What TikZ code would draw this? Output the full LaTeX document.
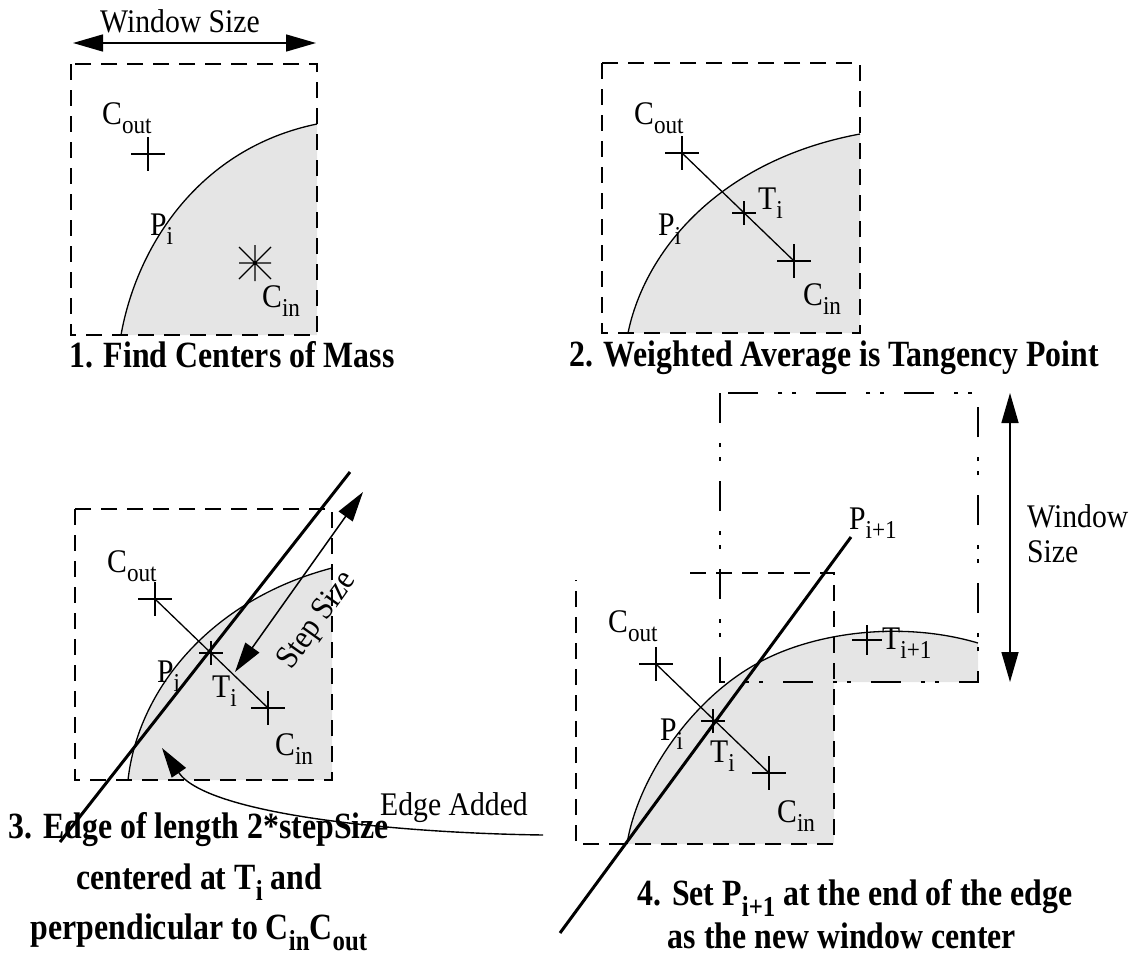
\documentclass[tikz,border=0pt]{standalone}
\usepackage{fontspec}
\usepackage{graphicx}
\setmainfont[FakeStretch=0.9]{Liberation Serif}
\newfontfamily\capfont[FakeStretch=0.86]{Liberation Serif}
\usetikzlibrary{arrows.meta}
\newcommand{\sbs}[1]{\raisebox{-0.3em}{\scalebox{0.78}{#1}}}
\definecolor{shadegray}{RGB}{229,229,229}
\newcommand{\plusat}[2]{\draw[cline] (#1) +(-#2,0) -- +(#2,0) +(0,-#2) -- +(0,#2);}
\tikzset{
  lbl/.style={inner sep=0pt, anchor=base west, font=\fontsize{33}{38}\selectfont},
  captext/.style={inner sep=0pt, anchor=base, font=\capfont\bfseries\fontsize{37}{44}\selectfont},
  winbox/.style={line width=1.4pt, dash pattern=on 16pt off 10pt},
  dotbox/.style={line width=1.4pt, dash pattern=on 30pt off 20pt on 4pt off 10pt on 4pt off 20pt},
  boundary/.style={line width=1.3pt},
  shaded/.style={fill=shadegray, draw=none},
  cline/.style={line width=1.3pt},
  thickedge/.style={line width=3pt},
  dimarrow/.style={line width=1.5pt, {Triangle[length=30pt,width=17pt]}-{Triangle[length=30pt,width=17pt]}},
  onearrow/.style={line width=1.4pt, -{Triangle[length=30pt,width=17pt]}},
}
\begin{document}
\begin{tikzpicture}[x=1pt,y=-1pt]
\useasboundingbox (0,0) rectangle (1140,961);

% ---------------- Panel 1 ----------------
\coordinate (b1a) at (71,64);
\coordinate (b1b) at (317,335);
\coordinate (k1s) at (121,335);
\coordinate (k1e) at (317,124);
\coordinate (k1c) at (317,335);
\fill[shaded] (k1s) .. controls (137,245) and (200,148) .. (k1e) -- (k1c) -- cycle;
\draw[boundary] (k1s) .. controls (137,245) and (200,148) .. (k1e);
\draw[winbox] (b1a) rectangle (b1b);
\coordinate (w1l) at (73,43);
\coordinate (w1r) at (316,43);
\draw[dimarrow] (w1l) -- (w1r);
\node[lbl] (w1t) at (100,32) {Window Size};
\coordinate (co1) at (148,154);
\plusat{co1}{17}
\coordinate (ci1) at (255,263);
\draw[cline] (ci1) +(-16,0) -- +(16,0) +(0,-18) -- +(0,18) +(-16,-16) -- +(16,16) +(-16,16) -- +(16,-16);
\node[lbl] (lco1) at (102,124) {C\sbs{out}};
\node[lbl] (lp1) at (150,235) {P\sbs{i}};
\node[lbl] (lci1) at (262,307) {C\sbs{in}};
\node[captext] (cap1) at (232,367) {1. Find Centers of Mass};

% ---------------- Panel 2 ----------------
\coordinate (b2a) at (602,63);
\coordinate (b2b) at (860,333);
\coordinate (k2s) at (628,333);
\coordinate (k2e) at (860,134);
\fill[shaded] (k2s) .. controls (645,250) and (720,160) .. (k2e) -- (b2b) -- cycle;
\draw[boundary] (k2s) .. controls (645,250) and (720,160) .. (k2e);
\draw[winbox] (b2a) rectangle (b2b);
\coordinate (co2) at (682,153);
\coordinate (ci2) at (794,261);
\coordinate (t2) at (744,213);
\draw[cline] (co2) -- (ci2);
\plusat{co2}{17}
\plusat{ci2}{17}
\plusat{t2}{12}
\node[lbl] (lco2) at (634,124) {C\sbs{out}};
\node[lbl] (lt2) at (758,209) {T\sbs{i}};
\node[lbl] (lp2) at (658,235) {P\sbs{i}};
\node[lbl] (lci2) at (803,305) {C\sbs{in}};
\node[captext] (cap2) at (834,366) {2. Weighted Average is Tangency Point};

% ---------------- Panel 3 ----------------
\coordinate (b3a) at (75,509);
\coordinate (b3b) at (332,780);
\coordinate (k3s) at (128,780);
\coordinate (k3e) at (332,568);
\fill[shaded] (k3s) .. controls (138,690) and (210,600) .. (k3e) -- (b3b) -- cycle;
\draw[boundary] (k3s) .. controls (138,690) and (210,600) .. (k3e);
\draw[winbox] (b3a) rectangle (b3b);
\coordinate (e3a) at (60,842);
\coordinate (e3b) at (350,472);
\draw[thickedge] (e3a) -- (e3b);
\coordinate (co3) at (155,599);
\coordinate (ci3) at (268,708);
\coordinate (t3) at (211,653);
\draw[cline] (co3) -- (ci3);
\plusat{co3}{17}
\plusat{ci3}{17}
\plusat{t3}{12}
\coordinate (s3a) at (363,492);
\coordinate (s3b) at (235,672);
\draw[dimarrow] (s3b) -- (s3a);
\node[inner sep=0pt, font=\fontsize{33}{38}\selectfont, rotate=54.6] (lss) at (318,621) {Step Size};
\node[lbl] (lco3) at (107,572) {C\sbs{out}};
\node[lbl] (lp3) at (157,682) {P\sbs{i}};
\node[lbl] (lt3) at (212,697) {T\sbs{i}};
\node[lbl] (lci3) at (275,755) {C\sbs{in}};
\node[lbl] (lea) at (380,815) {Edge Added};
\coordinate (ea0) at (543,835);
\coordinate (ea1) at (162,748);
\draw[onearrow] (ea0) .. controls (393,833) and (207,814) .. (ea1);
\node[captext] (cap3a) at (199,838) {3. Edge of length 2*stepSize};
\node[captext] (cap3b) at (199,889) {centered at T\sbs{i} and};
\node[captext] (cap3c) at (199,939) {perpendicular to C\sbs{in}C\sbs{out}};

% ---------------- Panel 4 ----------------
\coordinate (k4s) at (627,844);
\coordinate (k4m) at (758,663);
\coordinate (k4e) at (978,643);
\coordinate (u4a) at (720,393);
\coordinate (u4b) at (978,682);
\coordinate (l4c) at (834,682);
\coordinate (l4d) at (834,844);
\fill[shaded] (k4s) .. controls (637,780) and (690,700) .. (k4m)
  .. controls (812,633) and (900,620) .. (k4e) -- (u4b) -- (l4c) -- (l4d) -- cycle;
\draw[boundary] (k4s) .. controls (637,780) and (690,700) .. (k4m)
  .. controls (812,633) and (900,620) .. (k4e);
\draw[dotbox] (u4a) rectangle (u4b);
\coordinate (l4a) at (690,573);
\coordinate (l4b) at (834,573);
\coordinate (l4e) at (576,844);
\coordinate (l4f) at (576,580);
\draw[winbox] (l4a) -- (l4b) -- (l4d) -- (l4e) -- (l4f);
\coordinate (e4a) at (560,933);
\coordinate (e4b) at (851,537);
\draw[thickedge] (e4a) -- (e4b);
\coordinate (co4) at (656,664);
\coordinate (ci4) at (769,773);
\coordinate (t4) at (713,721);
\coordinate (tn4) at (867,640);
\draw[cline] (co4) -- (ci4);
\plusat{co4}{17}
\plusat{ci4}{17}
\plusat{t4}{12}
\plusat{tn4}{15}
\coordinate (v4a) at (1010,393);
\coordinate (v4b) at (1010,682);
\draw[dimarrow] (v4a) -- (v4b);
\node[lbl] (lw4a) at (1027,527) {Window};
\node[lbl] (lw4b) at (1027,562) {Size};
\node[lbl] (lpn4) at (849,529) {P\sbs{i+1}};
\node[lbl] (lco4) at (608,632) {C\sbs{out}};
\node[lbl] (ltn4) at (882,649) {T\sbs{i+1}};
\node[lbl] (lp4) at (660,740) {P\sbs{i}};
\node[lbl] (lt4) at (710,762) {T\sbs{i}};
\node[lbl] (lci4) at (777,822) {C\sbs{in}};
\node[captext] (cap4a) at (855,905) {4. Set P\sbs{i+1} at the end of the edge};
\node[captext] (cap4b) at (842,948) {as the new window center};
\end{tikzpicture}
\end{document}
